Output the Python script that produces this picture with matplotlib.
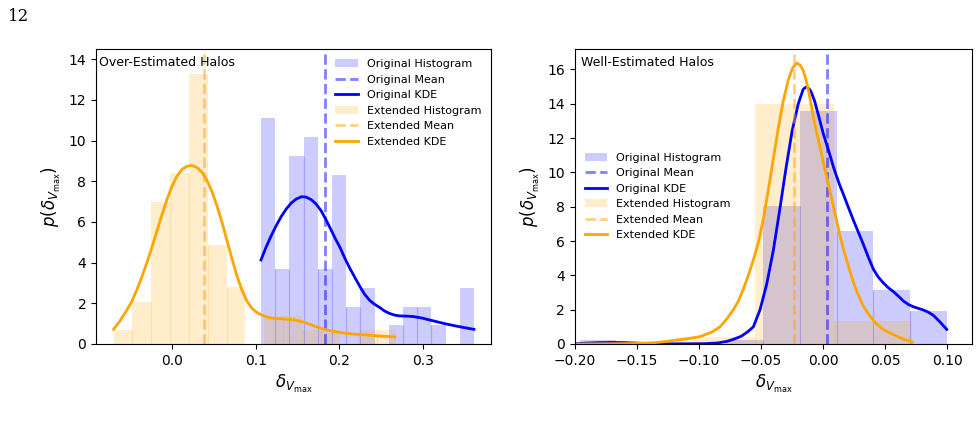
import numpy as np
import matplotlib.pyplot as plt

# ---------------- left panel: over-estimated halos ----------------
over_orig_edges = np.linspace(0.106, 0.361, 16)
over_orig_heights = [11.11, 3.69, 9.25, 10.18, 3.69, 8.31, 1.84, 2.75,
                     0.0, 0.93, 1.84, 1.84, 0.93, 0.0, 2.75]
over_orig_mean = 0.1827
over_orig_kde_x = [0.106, 0.112, 0.118, 0.124, 0.130, 0.136, 0.142, 0.148,
                   0.1545, 0.160, 0.166, 0.172, 0.178, 0.184, 0.190, 0.196,
                   0.2006, 0.206, 0.212, 0.218, 0.2245, 0.230, 0.236, 0.242,
                   0.248, 0.254, 0.260, 0.266, 0.272, 0.280, 0.288, 0.298,
                   0.308, 0.318, 0.328, 0.340, 0.350, 0.361]
over_orig_kde_y = [4.13, 4.75, 5.3, 5.8, 6.25, 6.62, 6.92, 7.12,
                   7.24, 7.22, 7.1, 6.88, 6.55, 6.1, 5.6, 5.1,
                   4.75, 4.25, 3.75, 3.3, 2.82, 2.45, 2.15, 1.95,
                   1.8, 1.62, 1.5, 1.42, 1.38, 1.37, 1.35, 1.28,
                   1.18, 1.08, 0.98, 0.88, 0.8, 0.72]

over_ext_edges = np.linspace(-0.0705, 0.2678, 16)
over_ext_heights = [0.69, 2.05, 6.97, 8.39, 13.28, 4.87, 2.80, 0.0,
                    1.38, 1.38, 0.69, 0.69, 0.0, 0.69, 0.69]
over_ext_mean = 0.0379
over_ext_kde_x = [-0.0705, -0.0626, -0.0546, -0.0486, -0.0426, -0.0366, -0.0306,
                  -0.0246, -0.0186, -0.0126, -0.0066, -0.0006, 0.0054, 0.0114,
                  0.0174, 0.0232, 0.0292, 0.0352, 0.0412, 0.0472, 0.0532, 0.0592,
                  0.0652, 0.0712, 0.0772, 0.0832, 0.0892, 0.0952, 0.101, 0.107,
                  0.113, 0.121, 0.133, 0.1447, 0.153, 0.1608, 0.172, 0.1847,
                  0.197, 0.2086, 0.2205, 0.2325, 0.2484, 0.2664]
over_ext_kde_y = [0.72, 1.15, 1.67, 2.1, 2.66, 3.3, 4.0,
                  4.75, 5.55, 6.35, 7.1, 7.75, 8.25, 8.58,
                  8.74, 8.77, 8.68, 8.45, 8.05, 7.5, 6.8, 6.0,
                  5.1, 4.2, 3.35, 2.65, 2.1, 1.75, 1.55, 1.42,
                  1.33, 1.26, 1.23, 1.19, 1.12, 1.02, 0.85, 0.69,
                  0.59, 0.52, 0.47, 0.44, 0.39, 0.35]

# ---------------- right panel: well-estimated halos ----------------
well_orig_edges = np.linspace(-0.1963, 0.0997, 11)
well_orig_heights = [0.22, 0.0, 0.0, 0.0, 0.24, 8.03, 13.6, 6.57, 3.14, 1.92]
well_orig_mean = 0.0030
well_orig_kde_x = [-0.2, -0.19, -0.18, -0.17, -0.16, -0.15, -0.14, -0.13,
                   -0.11, -0.095, -0.085, -0.0777, -0.072, -0.066, -0.061,
                   -0.0562, -0.0508, -0.0454, -0.040, -0.035, -0.030, -0.025,
                   -0.020, -0.016, -0.013, -0.010, -0.007, -0.004, 0.000,
                   0.003, 0.006, 0.0084, 0.011, 0.0137, 0.0165, 0.0191,
                   0.0218, 0.0245, 0.0285, 0.0325, 0.0365, 0.0406, 0.0445,
                   0.0487, 0.0527, 0.0567, 0.0608, 0.0648, 0.0688, 0.0728,
                   0.0769, 0.0809, 0.0849, 0.0889, 0.094, 0.0997]
well_orig_kde_y = [0.02, 0.05, 0.08, 0.09, 0.08, 0.05, 0.02, 0.01,
                   0.01, 0.02, 0.06, 0.15, 0.28, 0.45, 0.7,
                   1.0, 2.0, 3.5, 5.5, 7.8, 10.2, 12.4,
                   14.0, 14.85, 15.0, 14.75, 14.2, 13.4, 12.3,
                   11.6, 10.9, 10.3, 9.75, 9.2, 8.7, 8.2,
                   7.7, 7.2, 6.5, 5.8, 5.05, 4.35, 3.9,
                   3.55, 3.27, 3.05, 2.78, 2.5, 2.3, 2.17,
                   2.07, 1.98, 1.85, 1.67, 1.3, 0.85]

well_ext_edges = [-0.1185, -0.0548, 0.0089, 0.0720]
well_ext_heights = [0.39, 13.96, 1.34]
well_ext_mean = -0.0234
well_ext_kde_x = [-0.2, -0.175, -0.15, -0.135, -0.1207, -0.11, -0.0992, -0.09,
                  -0.0831, -0.0777, -0.0723, -0.0683, -0.0643, -0.0602, -0.0562,
                  -0.0522, -0.0481, -0.0441, -0.0401, -0.0361, -0.032, -0.028,
                  -0.0245, -0.0212, -0.0185, -0.0158, -0.0131, -0.0105, -0.0078,
                  -0.0051, -0.0024, 0.0003, 0.003, 0.0057, 0.0084, 0.011,
                  0.0137, 0.0164, 0.0191, 0.0218, 0.0245, 0.0272, 0.0325,
                  0.038, 0.0433, 0.049, 0.0567, 0.064, 0.072]
well_ext_kde_y = [0.0, 0.01, 0.03, 0.08, 0.2, 0.3, 0.43, 0.68,
                  1.0, 1.45, 2.0, 2.5, 3.2, 4.0, 4.9,
                  5.9, 7.3, 9.0, 10.8, 12.6, 14.2, 15.4,
                  16.1, 16.37, 16.25, 15.9, 15.2, 14.3, 13.2,
                  12.3, 11.45, 10.55, 9.7, 8.85, 8.0, 7.15,
                  6.3, 5.55, 4.85, 4.2, 3.6, 3.05, 2.2,
                  1.6, 1.15, 0.82, 0.55, 0.3, 0.12]


def add_hist(ax, edges, heights, color, label):
    edges = np.asarray(edges)
    heights = np.asarray(heights)
    centers = 0.5 * (edges[1:] + edges[:-1])
    ax.hist(centers, bins=edges, weights=heights, color=color, alpha=0.2,
            label=label)
    # faint seams between neighbouring bars
    seam_h = np.minimum(heights[1:], heights[:-1])
    ax.vlines(edges[1:-1], 0, seam_h, color=color, alpha=0.2, lw=0.8)


def draw_panel(ax, o_edges, o_h, o_mean, o_kx, o_ky,
               e_edges, e_h, e_mean, e_kx, e_ky):
    add_hist(ax, o_edges, o_h, 'blue', 'Original Histogram')
    ax.axvline(o_mean, color='blue', alpha=0.5, ls='--', lw=2,
               label='Original Mean')
    ax.plot(o_kx, o_ky, color='blue', lw=2, label='Original KDE')
    add_hist(ax, e_edges, e_h, 'orange', 'Extended Histogram')
    ax.axvline(e_mean, color='orange', alpha=0.5, ls='--', lw=2,
               label='Extended Mean')
    ax.plot(e_kx, e_ky, color='orange', lw=2, label='Extended KDE')
    ax.set_xlabel(r'$\delta_{V_{\max}}$', fontsize=12)
    ax.set_ylabel(r'$p(\delta_{V_{\max}})$', fontsize=12)
    ax.tick_params(labelsize=10)


fig = plt.figure(figsize=(9.79, 4.34), dpi=100)
ax1 = fig.add_axes([0.0981, 0.2074, 0.4035, 0.6797])
ax2 = fig.add_axes([0.5873, 0.2074, 0.4055, 0.6797])

draw_panel(ax1, over_orig_edges, over_orig_heights, over_orig_mean,
           over_orig_kde_x, over_orig_kde_y,
           over_ext_edges, over_ext_heights, over_ext_mean,
           over_ext_kde_x, over_ext_kde_y)
ax1.set_xlim(-0.0915, 0.3815)
ax1.set_ylim(0, 14.5)
ax1.set_xticks([0.0, 0.1, 0.2, 0.3])
ax1.set_yticks(range(0, 15, 2))
ax1.text(0.008, 0.975, 'Over-Estimated Halos', transform=ax1.transAxes,
         ha='left', va='top', fontsize=9)
ax1.legend(loc='upper right', frameon=False, fontsize=8)

draw_panel(ax2, well_orig_edges, well_orig_heights, well_orig_mean,
           well_orig_kde_x, well_orig_kde_y,
           well_ext_edges, well_ext_heights, well_ext_mean,
           well_ext_kde_x, well_ext_kde_y)
ax2.set_xlim(-0.2, 0.12)
ax2.set_ylim(0, 17.19)
ax2.set_xticks([-0.20, -0.15, -0.10, -0.05, 0.00, 0.05, 0.10])
ax2.set_yticks(range(0, 17, 2))
ax2.text(0.015, 0.975, 'Well-Estimated Halos', transform=ax2.transAxes,
         ha='left', va='top', fontsize=9)
ax2.legend(loc='center left', frameon=False, fontsize=8)

fig.text(8 / 979, 1 - 8 / 434, '12', family='DejaVu Serif', fontsize=12,
         ha='left', va='top')

plt.savefig('out.png', dpi=100)
